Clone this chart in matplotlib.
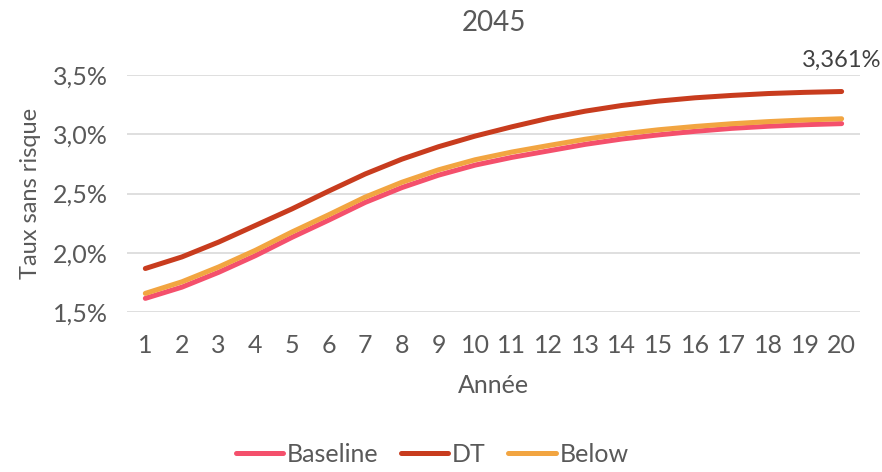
import numpy as np
import matplotlib.pyplot as plt
from matplotlib.ticker import FuncFormatter

annees = list(range(1, 21))
baseline = [1.615, 1.71, 1.835, 1.975, 2.13, 2.275, 2.425, 2.55, 2.655, 2.74,
            2.805, 2.86, 2.915, 2.96, 2.995, 3.025, 3.05, 3.068, 3.081, 3.09]
dt = [1.867, 1.965, 2.09, 2.23, 2.37, 2.52, 2.665, 2.79, 2.895, 2.985,
      3.063, 3.135, 3.195, 3.243, 3.28, 3.308, 3.328, 3.344, 3.354, 3.361]
below = [1.657, 1.755, 1.88, 2.02, 2.175, 2.32, 2.47, 2.595, 2.70, 2.785,
         2.85, 2.905, 2.958, 3.003, 3.038, 3.066, 3.089, 3.107, 3.121, 3.131]

gris = "#595959"
plt.rcParams["font.family"] = ["Lato", "DejaVu Sans"]

fig = plt.figure(figsize=(8.82, 4.72), dpi=100)
ax = fig.add_axes([0.144, 0.339, 0.831, 0.502])

ax.plot(annees, baseline, color="#F4506C", linewidth=3.6, label="Baseline", solid_capstyle="round")
ax.plot(annees, dt, color="#C83C1E", linewidth=3.6, label="DT", solid_capstyle="round")
ax.plot(annees, below, color="#F2A541", linewidth=3.6, label="Below", solid_capstyle="round")

ax.annotate("3,361%", (annees[-1], dt[-1]), xytext=(0, 15), textcoords="offset points",
            ha="center", va="bottom", fontsize=17, color="#404040")

ax.set_xlim(0.5, 20.5)
ax.set_ylim(1.5, 3.5)
ax.set_xticks(annees)
ax.set_yticks([1.5, 2.0, 2.5, 3.0, 3.5])
ax.yaxis.set_major_formatter(FuncFormatter(lambda v, p: f"{v:.1f}%".replace(".", ",")))
ax.tick_params(length=0, labelsize=18, labelcolor=gris)
ax.tick_params(axis="x", pad=16)
ax.tick_params(axis="y", pad=14)
ax.grid(axis="y", color="#D9D9D9", linewidth=1.2)
ax.set_axisbelow(True)
for s in ax.spines.values():
    s.set_visible(False)

ax.set_title("2045", fontsize=20, color=gris, pad=32)
ax.set_xlabel("Année", fontsize=18, color=gris, labelpad=12)
ax.set_ylabel("Taux sans risque", fontsize=17, color=gris, labelpad=8)

fig.legend(loc="lower center", bbox_to_anchor=(0.49, -0.035), ncol=3, frameon=False,
           fontsize=18, labelcolor=gris, handlelength=1.9, handletextpad=0.15,
           columnspacing=0.9)

fig.savefig("out.png", dpi=100)
